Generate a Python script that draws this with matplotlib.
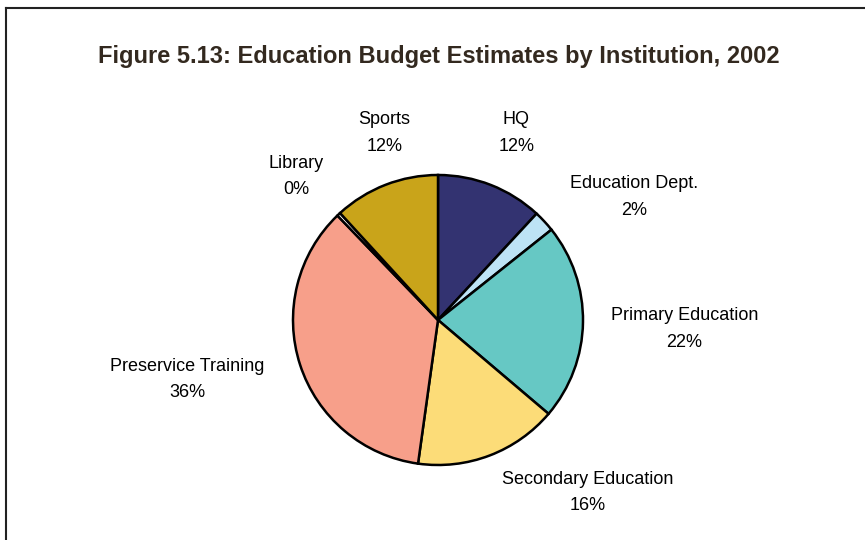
import matplotlib.pyplot as plt
from matplotlib.lines import Line2D

# budget shares by institution (percent), clockwise from the top
institutions = ["HQ", "Education Dept.", "Primary Education", "Secondary Education",
                "Preservice Training", "Library", "Sports"]
shares = [11.9, 2.4, 21.9, 16.0, 35.6, 0.4, 11.8]
colors = ["#333371", "#BDE3F5", "#66C8C4", "#FCDC78", "#F79F8A", "#FFFFFF", "#C9A41A"]

# label anchors in units of the pie radius
label_pos = [(0.54, 1.29), (1.35, 0.85), (1.70, -0.06), (1.03, -1.19),
             (-1.73, -0.41), (-0.98, 0.99), (-0.37, 1.29)]

plt.rcParams['font.family'] = ['Liberation Sans', 'DejaVu Sans']

fig = plt.figure(figsize=(8.65, 5.4), dpi=100)
ax = fig.add_axes([0, 0, 1, 1])

wedges, _ = ax.pie(shares, colors=colors, startangle=90, counterclock=False,
                   radius=1.0, center=(0, 0),
                   wedgeprops=dict(edgecolor="black", linewidth=1.8))

total = sum(shares)
for name, val, (x, y) in zip(institutions, shares, label_pos):
    ax.text(x, y, f"{name}\n{val / total * 100:.0f}%", ha="center", va="center",
            fontsize=13, linespacing=1.75, color="black")

# 1 data unit = 145 px, pie centre at (438, 320) px
ax.set_xlim(-438 / 145, (865 - 438) / 145)
ax.set_ylim(-(540 - 320) / 145, 320 / 145)
ax.set_aspect("auto")
ax.axis("off")

fig.text(439 / 865, 1 - 57 / 540,
         "Figure 5.13: Education Budget Estimates by Institution, 2002",
         ha="center", va="center", fontsize=17, fontweight="bold", color="#33291f")

# outer frame (left and top edges)
fig.add_artist(Line2D([5.5 / 865, 5.5 / 865], [0, 1 - 8 / 540],
                      transform=fig.transFigure, color="#222222", linewidth=1.5))
fig.add_artist(Line2D([5.5 / 865, 1], [1 - 8 / 540, 1 - 8 / 540],
                      transform=fig.transFigure, color="#222222", linewidth=1.5))

fig.savefig("out.png", dpi=100, facecolor="white")
